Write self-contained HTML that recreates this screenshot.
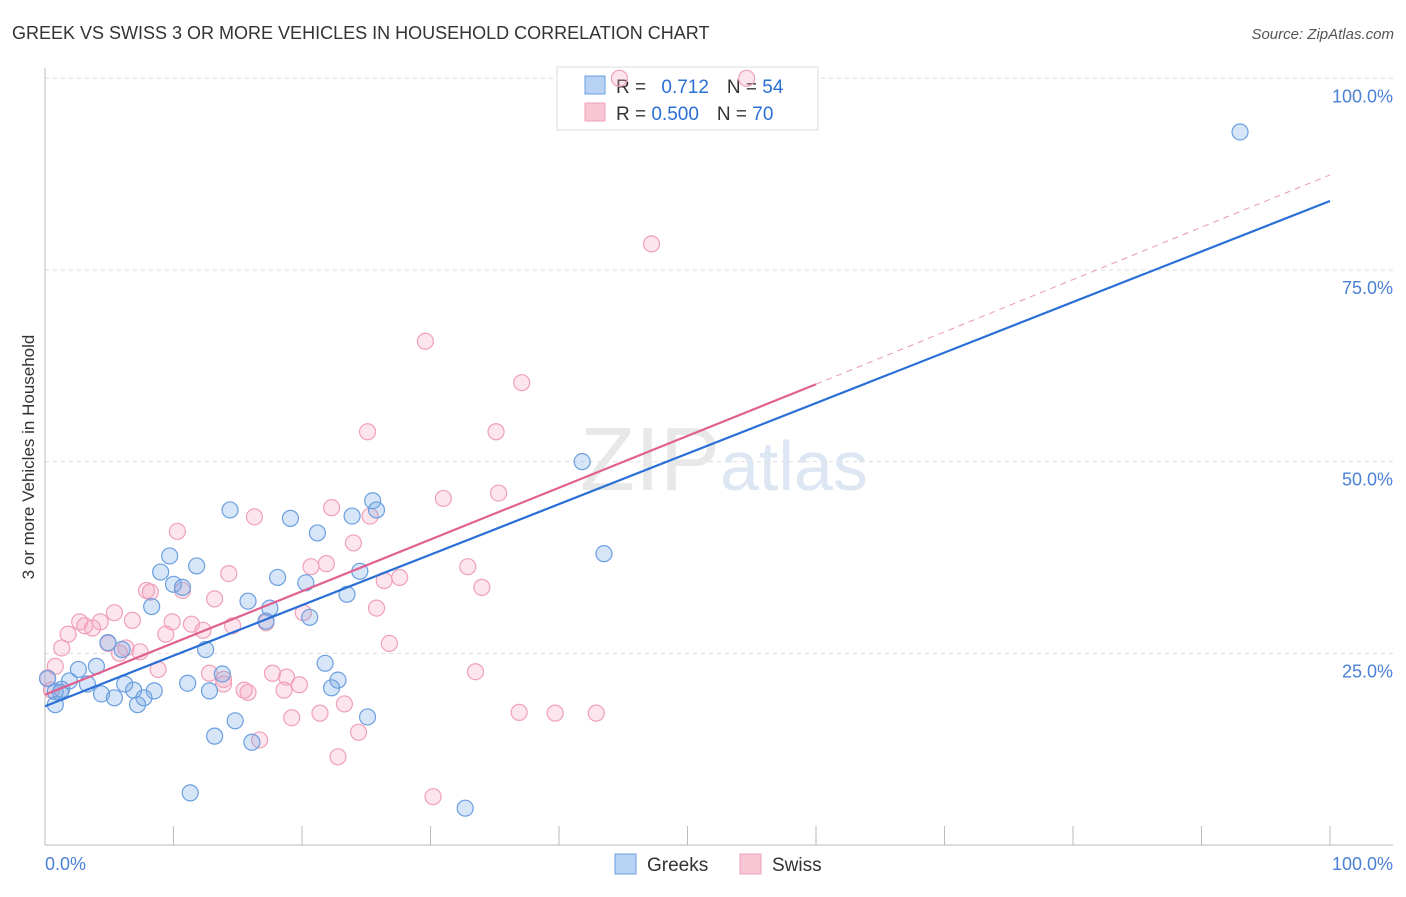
<!DOCTYPE html>
<html><head><meta charset="utf-8"><style>
body{margin:0;background:#fff;font-family:"Liberation Sans",sans-serif;}
svg text{font-family:"Liberation Sans",sans-serif;}
</style></head><body>
<svg width="1406" height="892">
<text x="12" y="39" font-size="18" fill="#333">GREEK VS SWISS 3 OR MORE VEHICLES IN HOUSEHOLD CORRELATION CHART</text>
<text x="1394" y="39" font-size="15" fill="#555" text-anchor="end" font-style="italic">Source: ZipAtlas.com</text>
<text transform="translate(34,457) rotate(-90)" font-size="17" fill="#333" text-anchor="middle">3 or more Vehicles in Household</text>
<g id="grid"></g>
<text x="720" y="490" font-size="90" fill="#e8e8e8" text-anchor="end" font-family="Liberation Serif">ZIP</text>
<text x="720" y="490" font-size="70" fill="#dde6f3">atlas</text>
<g>
<rect x="557" y="67" width="261" height="63" fill="#fff" stroke="#ddd"/>
<rect x="585" y="76" width="20" height="18" fill="#b8d2f3" stroke="#6a9fe0"/>
<rect x="585" y="103" width="20" height="18" fill="#f9c4d4" stroke="#f0a0b8"/>
<text x="616" y="93" font-size="19" fill="#333">R = <tspan fill="#2a6fd6" dx="10">0.712</tspan><tspan dx="18" fill="#333">N = </tspan><tspan fill="#2a6fd6">54</tspan></text>
<text x="616" y="120" font-size="19" fill="#333">R = <tspan fill="#2a6fd6">0.500</tspan><tspan dx="18" fill="#333">N = </tspan><tspan fill="#2a6fd6">70</tspan></text>
</g>
<g id="pts"></g>
<g id="lines"></g>
<g>
<rect x="615" y="854" width="21" height="20" fill="#b8d2f3" stroke="#6a9fe0"/>
<text x="647" y="871" font-size="19" fill="#333">Greeks</text>
<rect x="740" y="854" width="21" height="20" fill="#f9c4d4" stroke="#f0a0b8"/>
<text x="772" y="871" font-size="19" fill="#333">Swiss</text>
</g>
</svg>
<script>
const yTicks=[25,50,75,100];
const yTickLabels=["25.0%","50.0%","75.0%","100.0%"];
const blueX=[93.0,41.8,43.5,14.4,19.1,21.2,23.9,25.5,25.8,9.7,11.8,9.0,10.0,10.7,8.3,18.1,20.3,24.5,23.5,15.8,17.5,17.2,20.6,4.9,6.0,12.5,4.0,2.6,1.9,3.3,0.8,1.3,4.4,5.4,6.2,6.9,8.5,7.7,7.2,11.1,12.8,13.8,21.8,22.8,22.3,0.8,14.8,13.2,16.1,25.1,11.3,32.7,0.2,1.2];
const blueY=[93.0,50.0,38.0,43.7,42.6,40.7,42.9,44.9,43.7,37.7,36.4,35.6,34.0,33.6,31.1,34.9,34.2,35.7,32.7,31.8,30.9,29.2,29.7,26.4,25.5,25.5,23.3,22.9,21.4,21.0,20.0,20.3,19.7,19.2,21.0,20.2,20.1,19.2,18.3,21.1,20.1,22.3,23.7,21.5,20.5,18.3,16.2,14.2,13.4,16.7,6.8,4.8,21.7,19.9];
const pinkX=[44.7,54.6,47.2,29.6,37.1,25.1,35.1,31.0,35.3,22.3,16.3,25.3,10.3,24.0,14.3,20.7,21.9,32.9,27.6,26.4,34.0,7.9,8.2,10.7,13.2,25.8,5.4,6.8,14.6,17.2,20.1,2.7,4.3,3.1,3.7,1.8,9.4,9.9,12.3,11.4,26.8,6.3,4.9,7.4,5.8,1.3,0.8,8.8,12.8,13.9,17.7,18.8,19.8,15.5,18.6,15.8,33.5,23.3,21.4,19.2,36.9,39.7,42.9,24.4,16.7,22.8,30.2,0.2,0.5,13.9];
const pinkY=[100.0,100.0,78.4,65.7,60.3,53.9,53.9,45.2,45.9,44.0,42.8,42.9,40.9,39.4,35.4,36.3,36.7,36.3,34.9,34.5,33.6,33.2,33.0,33.2,32.1,30.9,30.3,29.3,28.6,29.0,30.3,29.1,29.1,28.6,28.3,27.5,27.5,29.1,28.0,28.8,26.3,25.7,26.3,25.2,25.0,25.7,23.3,22.9,22.4,21.6,22.4,21.9,20.9,20.2,20.2,19.9,22.6,18.4,17.2,16.6,17.3,17.2,17.2,14.7,13.7,11.5,6.3,21.8,20.2,21.0];
const blueLine=[0,18.1,100,84.0];
const pinkLine=[0,19.6,60,60.1];
const pinkDash=[60,60.1,100,87.4];
const X=v=>45+v*12.85, Y=v=>845-v*7.667;
const NS="http://www.w3.org/2000/svg";
function mk(tag,at,parent){const e=document.createElementNS(NS,tag);for(const k in at)e.setAttribute(k,at[k]);parent.appendChild(e);return e;}
const grid=document.getElementById('grid');
yTicks.forEach((t,i)=>{
 const l=mk('line',{x1:45,x2:1393,y1:Y(t),y2:Y(t),stroke:'#ddd','stroke-dasharray':'4,4'},grid);
 
 
 const tx=mk('text',{x:1393,y:Y(t)+24,'font-size':18,fill:'#4a80d6','text-anchor':'end'},grid);
 tx.textContent=yTickLabels[i];
 
 
});
const ax=mk('line',{x1:45,x2:1393,y1:845,y2:845,stroke:'#bbb'},grid);


const ay=mk('line',{x1:45,x2:45,y1:68,y2:845,stroke:'#bbb'},grid);


for(let i=1;i<=10;i++){const t=mk('line',{x1:X(i*10),x2:X(i*10),y1:826,y2:845,stroke:'#bbb'},grid);
 
 }
[[X(0),'start','0.0%'],[1393,'end','100.0%']].forEach(a=>{const t=mk('text',{x:a[0],y:870,'font-size':18,fill:'#4a80d6','text-anchor':a[1]},grid);t.textContent=a[2];
 
 });
const pts=document.getElementById('pts');
pinkX.forEach((v,i)=>{const c=mk('circle',{cx:X(v),cy:Y(pinkY[i]),r:8,fill:'rgba(245,170,195,0.3)',stroke:'#f0a0b8','stroke-width':1.2},pts);
 
 });
blueX.forEach((v,i)=>{const c=mk('circle',{cx:X(v),cy:Y(blueY[i]),r:8,fill:'rgba(120,170,230,0.3)',stroke:'#6a9fe0','stroke-width':1.2},pts);
 
 });
const lines=document.getElementById('lines');
const b=mk('line',{x1:X(blueLine[0]),y1:Y(blueLine[1]),x2:X(blueLine[2]),y2:Y(blueLine[3]),stroke:'#2a6fd6','stroke-width':2.2},lines);


const p=mk('line',{x1:X(pinkLine[0]),y1:Y(pinkLine[1]),x2:X(pinkLine[2]),y2:Y(pinkLine[3]),stroke:'#e06090','stroke-width':2.2},lines);


const d=mk('line',{x1:X(pinkDash[0]),y1:Y(pinkDash[1]),x2:X(pinkDash[2]),y2:Y(pinkDash[3]),stroke:'#e898b0','stroke-width':1,'stroke-dasharray':'6,5'},lines);


</script>
</body></html>
